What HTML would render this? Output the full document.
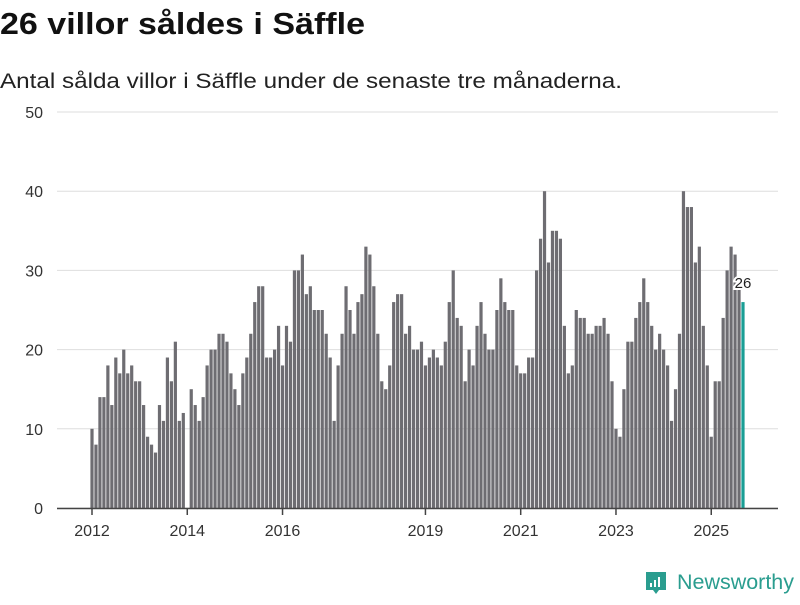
<!DOCTYPE html>
<html><head><meta charset="utf-8">
<style>
body{margin:0;background:#fff;width:800px;height:600px;overflow:hidden;font-family:"Liberation Sans",sans-serif;}
svg text{font-family:"Liberation Sans",sans-serif;}
</style></head>
<body>
<svg id="chart" width="800" height="600" xmlns="http://www.w3.org/2000/svg">
<text x="0" y="34" font-size="31" font-weight="bold" fill="#111" textLength="365" lengthAdjust="spacingAndGlyphs">26 villor såldes i Säffle</text>
<text x="0" y="88" font-size="21" fill="#222" textLength="622" lengthAdjust="spacingAndGlyphs">Antal sålda villor i Säffle under de senaste tre månaderna.</text>
<g id="grid"></g>
<g id="bars"></g>
<g id="axis"></g>
<g>
<path d="M646 572 h20 v18 h-7 l-3 4 l-3 -4 h-7 z" fill="#2a9d8f"/>
<rect x="650" y="583" width="2" height="4" fill="#fff"/>
<rect x="654" y="580" width="2" height="7" fill="#fff"/>
<rect x="658" y="577" width="2" height="10" fill="#fff"/>
<text x="677" y="589" font-size="21" fill="#2a9d8f" textLength="117" lengthAdjust="spacingAndGlyphs">Newsworthy</text>
</g>
</svg>
<script>
const years = [2012,2013,2014,2015,2016,2017,2018,2019,2020,2021,2022,2023,2024,2025];
const values = [
10,8,14,14,18,13,19,17,20,17,18,16,
16,13,9,8,7,13,11,19,16,21,11,12,
0,15,13,11,14,18,20,20,22,22,21,17,
15,13,17,19,22,26,28,28,19,19,20,23,
18,23,21,30,30,32,27,28,25,25,25,22,
19,11,18,22,28,25,22,26,27,33,32,28,
22,16,15,18,26,27,27,22,23,20,20,21,
18,19,20,19,18,21,26,30,24,23,16,20,
18,23,26,22,20,20,25,29,26,25,25,18,
17,17,19,19,30,34,40,31,35,35,34,23,
17,18,25,24,24,22,22,23,23,24,22,16,
10,9,15,21,21,24,26,29,26,23,20,22,
20,18,11,15,22,40,38,38,31,33,23,18,
9,16,16,24,30,33,32,28,26];
const yTicks = [0,10,20,30,40,50];
const xTickLabels = [2012,2014,2016,2019,2021,2023,2025];
const NS='http://www.w3.org/2000/svg';
const y = v => 508 - v*7.92;
const x = i => 92 + i*(651/164);
const xYear = yr => x((yr-2012)*12);
function mk(tag, attrs, parent){const e=document.createElementNS(NS,tag);for(const k in attrs)e.setAttribute(k,attrs[k]);parent.appendChild(e);return e;}
const grid=document.getElementById('grid'), bars=document.getElementById('bars'), axis=document.getElementById('axis');
yTicks.forEach(t=>{
  const l=mk('line',{x1:57,x2:778,y1:y(t),y2:y(t),stroke:'#dedede','stroke-width':1},grid);
  
  
  const tx=mk('text',{x:43,y:y(t)+6,'font-size':16,fill:'#333','text-anchor':'end'},grid);
  tx.textContent=t;
  
  
});
const bw=3.2;
values.forEach((v,i)=>{
  const last=i===values.length-1;
  const r=mk('rect',{x:x(i)-bw/2,y:y(v),width:bw,height:508-y(v),fill:last?'#1a9e95':'#6e6d72'},bars);
  
  
});
const li=values.length-1;
const lab=mk('text',{x:x(li),y:y(values[li])-14,'font-size':15,fill:'#222','text-anchor':'middle',stroke:'#fff','stroke-width':4,'paint-order':'stroke'},bars);
lab.textContent=values[li];


const base=mk('line',{x1:57,x2:778,y1:508.5,y2:508.5,stroke:'#444','stroke-width':1.5},axis);


xTickLabels.forEach(yr=>{
  const px=xYear(yr);
  const t=mk('line',{x1:px,x2:px,y1:509,y2:515,stroke:'#444','stroke-width':1.5},axis);
  
  
  const tx=mk('text',{x:px,y:536,'font-size':16,fill:'#333','text-anchor':'middle'},axis);
  tx.textContent=yr;
  
  
});
</script>
</body></html>
